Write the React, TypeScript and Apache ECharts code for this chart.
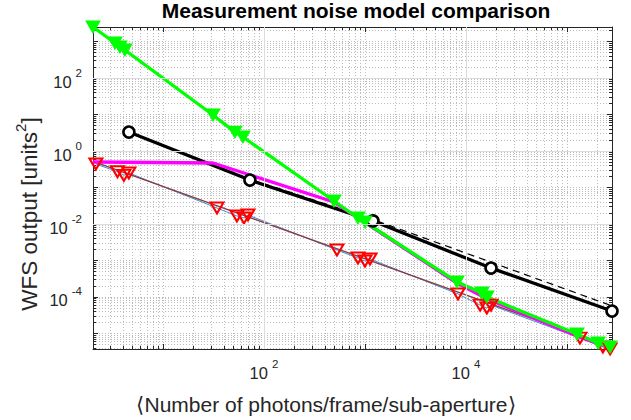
import React, { useEffect, useRef } from "react";
import * as echarts from "echarts";

const FONT = "'Liberation Sans', Arial, Helvetica, sans-serif";
const INK = "#262626";

// Axis limits (tight to data, as in the reference)
const xMin = 2.03;
const xMax = 2.79e5;
const yMin = 3.76e-6;
const yMax = 2500;

// Labelled (major) decades
const majorXTicks = [100, 10000];
const majorYTicks = [1e-4, 1e-2, 1, 100];

const titleText = "Measurement noise model comparison";
const xLabel = "\u27E8Number of photons/frame/sub-aperture\u27E9";
const yLabelMain = "WFS output [units";
const yLabelSup = "2";
const yLabelEnd = "]";

// Series (x = photons/frame/sub-aperture, y = WFS output)
const redPts: [number, number][] = [
  [2.17, 0.44], [3.55, 0.27], [4.1, 0.215], [4.6, 0.25],
  [34.3, 0.0274], [54, 0.0166], [63.4, 0.0146], [69.5, 0.0177],
  [528, 1.94e-3], [853, 1.17e-3], [1000, 9.7e-4], [1122, 1.1e-3],
  [8340, 1.21e-4], [13800, 6.0e-5], [16100, 5.0e-5], [17700, 6.0e-5],
  [134500, 7.5e-6], [227000, 4.27e-6], [267000, 3.8e-6],
];
const brownPts: [number, number][] = [
  [2.03, 0.52], [279000, 4.2e-6],
];
const blackPts: [number, number][] = [
  [4.6, 3.3], [72.6, 0.16], [1200, 0.0121], [17700, 6.2e-4], [279000, 4.13e-5],
];
const dashedPts: [number, number][] = [
  [4.6, 3.3], [72.6, 0.17], [1200, 0.0133], [17700, 9.0e-4], [279000, 5.7e-5],
];
const magentaPts: [number, number][] = [
  [2.03, 0.5], [31.3, 0.47], [493, 0.04], [8150, 2.4e-4], [16100, 9.0e-5], [125600, 8.5e-6], [267000, 4.1e-6],
];
const greenPts: [number, number][] = [
  [2.03, 2500], [3.35, 910], [3.75, 707], [4.2, 585],
  [31.3, 9.7], [51.6, 3.3], [62, 2.42],
  [493, 0.0427], [853, 0.0146], [1000, 0.01135],
  [8150, 2.58e-4], [14400, 1.29e-4], [16100, 1.0e-4],
  [125600, 9.7e-6], [203000, 5.5e-6], [267000, 4.27e-6],
];

const supLabel = (v: number) => {
  const e = Math.round(Math.log10(v));
  if (Math.abs(v / Math.pow(10, e) - 1) > 1e-6) return "";
  if (e % 2 !== 0) return "";
  return `{b|10}{s|${e}}`;
};

const tickRich = {
  b: { fontSize: 16.5, fontFamily: FONT, color: INK, lineHeight: 30 },
  s: { fontSize: 11.5, fontFamily: FONT, color: INK, lineHeight: 15, verticalAlign: "top", padding: [0, 0, 0, 4] },
};

const minorGrid = { show: true, lineStyle: { color: "#bdbdbd", width: 1, type: [1, 2] } };
const tickLine = { color: INK, width: 1 };

function makeLogAxis(pos: string, withLabels: boolean, min: number, max: number, margin: number, pad: number[]) {
  return {
    type: "log",
    logBase: 10,
    min,
    max,
    position: pos,
    axisLine: { show: true, onZero: false, lineStyle: { color: INK, width: 1 } },
    axisTick: { show: true, inside: true, length: 5, lineStyle: tickLine },
    minorTick: { show: true, splitNumber: 9, length: 3, lineStyle: tickLine },
    axisLabel: withLabels
      ? { show: true, formatter: supLabel, rich: tickRich, margin, padding: pad, showMinLabel: false, showMaxLabel: false }
      : { show: false },
    splitLine: withLabels ? minorGrid : { show: false },
    minorSplitLine: withLabels ? minorGrid : { show: false },
  };
}

export default function App() {
  const ref = useRef<HTMLDivElement>(null);
  useEffect(() => {
    if (!ref.current) return;
    const chart = echarts.init(ref.current, undefined, { renderer: "svg" });
    const majorLines = [
      ...majorXTicks.map((v) => ({ xAxis: v })),
      ...majorYTicks.map((v) => ({ yAxis: v })),
    ];
    chart.setOption({
      animation: false,
      backgroundColor: "#ffffff",
      grid: { left: 93, right: 19, top: 27, bottom: 71, containLabel: false },
      xAxis: [
        makeLogAxis("bottom", true, xMin, xMax, 9, [0, 0, 0, 0]),
        makeLogAxis("top", false, xMin, xMax, 8, [0, 0, 0, 0]),
      ],
      yAxis: [
        makeLogAxis("left", true, yMin, yMax, 11, [7, 0, 0, 0]),
        makeLogAxis("right", false, yMin, yMax, 8, [0, 0, 0, 0]),
      ],
      graphic: [
        {
          type: "text",
          x: 356,
          y: 10,
          style: { text: titleText, fontSize: 21, fontWeight: "bold", fontFamily: FONT, fill: "#000", align: "center", verticalAlign: "middle" },
        },
        {
          type: "text",
          x: 326,
          y: 404,
          style: { text: xLabel, fontSize: 21, fontFamily: FONT, fill: INK, align: "center", verticalAlign: "middle" },
        },
        {
          type: "text",
          x: 29,
          y: 214,
          rotation: Math.PI / 2,
          style: {
            text: `{a|${yLabelMain}}{s|${yLabelSup}}{a|${yLabelEnd}}`,
            align: "center",
            verticalAlign: "middle",
            rich: {
              a: { fontSize: 22.5, fontFamily: FONT, fill: INK, color: INK, lineHeight: 32 },
              s: { fontSize: 15, fontFamily: FONT, fill: INK, color: INK, lineHeight: 17, verticalAlign: "top" },
            },
          },
        },
      ],
      series: [
        {
          type: "line",
          data: [],
          silent: true,
          markLine: {
            silent: true,
            symbol: "none",
            label: { show: false },
            lineStyle: { color: "#dcdcdc", type: "solid", width: 1 },
            data: majorLines,
          },
        },
        {
          type: "line",
          data: redPts,
          clip: false,
          symbol: "triangle",
          symbolRotate: 180,
          symbolSize: [13, 11],
          lineStyle: { color: "#3d8fd6", width: 1 },
          itemStyle: { color: "rgba(255,255,255,0)", borderColor: "#ff0000", borderWidth: 2 },
        },
        {
          type: "line",
          data: brownPts,
          symbol: "none",
          lineStyle: { color: "#8a3a44", width: 1.3 },
        },
        {
          type: "line",
          data: blackPts,
          clip: false,
          symbol: "circle",
          symbolSize: 11,
          lineStyle: { color: "#000", width: 3.3 },
          itemStyle: { color: "#ffffff", borderColor: "#000", borderWidth: 2.6 },
        },
        {
          type: "line",
          data: dashedPts,
          symbol: "none",
          lineStyle: { color: "#000", width: 1.2, type: [7, 5] },
        },
        {
          type: "line",
          data: magentaPts,
          symbol: "none",
          lineStyle: { color: "#ff00ff", width: 3.3 },
        },
        {
          type: "line",
          data: greenPts,
          clip: false,
          symbol: "triangle",
          symbolRotate: 180,
          symbolSize: [14, 12],
          lineStyle: { color: "#00ff00", width: 3.3 },
          itemStyle: { color: "#00ff00", borderColor: "#00ff00", borderWidth: 1 },
        },
      ],
    });
    return () => chart.dispose();
  }, []);
  return (
    <div
      ref={ref}
      style={{ position: "fixed", left: 0, top: 0, width: 631, height: 420, background: "#fff" }}
    />
  );
}
